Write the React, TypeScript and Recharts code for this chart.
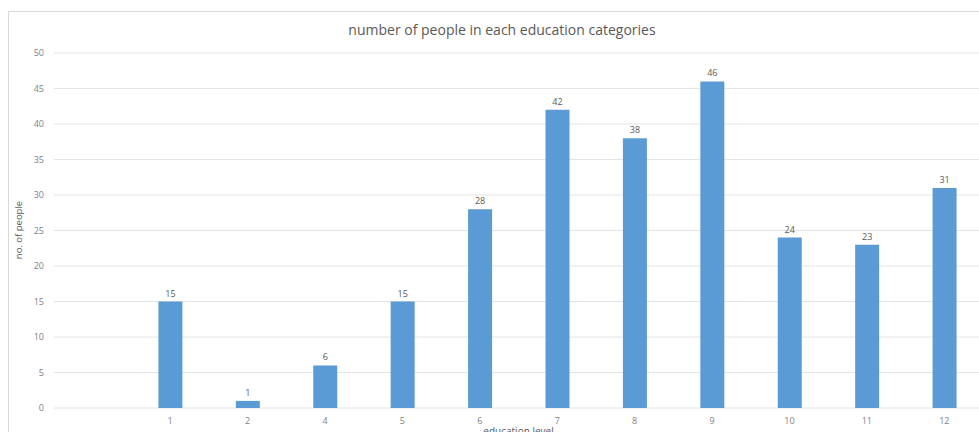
import React from 'react';
import { BarChart, Bar, XAxis, YAxis, CartesianGrid, LabelList, Label } from 'recharts';

const categories = ['', '1', '2', '4', '5', '6', '7', '8', '9', '10', '11', '12'];
const counts: (number | null)[] = [null, 15, 1, 6, 15, 28, 42, 38, 46, 24, 23, 31];
const yTicks = [0, 5, 10, 15, 20, 25, 30, 35, 40, 45, 50];

const data = categories.map((c, i) => ({ level: c, people: counts[i] }));

const FONT = '"Open Sans", "Liberation Sans", sans-serif';

export default function App() {
  return (
    <div style={{ position: 'absolute', left: 0, top: 0, width: 979, height: 432, overflow: 'hidden', background: '#fff' }}>
      <div
        style={{
          position: 'absolute',
          left: 8,
          top: 11,
          width: 1000,
          height: 440,
          borderLeft: '1px solid #d9d9d9',
          borderTop: '1px solid #d9d9d9',
          fontFamily: FONT,
        }}
      >
        <div
          style={{
            position: 'absolute',
            left: 0,
            top: 8,
            width: 986,
            textAlign: 'center',
            fontSize: 14,
            color: '#595959',
            lineHeight: '20px',
          }}
        >
          number of people in each education categories
        </div>
        <div
          style={{
            position: 'absolute',
            left: 9,
            top: 218,
            width: 0,
            height: 0,
          }}
        >
          <div
            style={{
              position: 'absolute',
              transform: 'translate(-50%, -50%) rotate(-90deg)',
              whiteSpace: 'nowrap',
              fontSize: 9.5,
              color: '#595959',
            }}
          >
            no. of people
          </div>
        </div>
        <div style={{ position: 'absolute', left: 0, top: 0 }}>
          <BarChart
            width={984}
            height={430}
            data={data}
            margin={{ top: 41, right: 10, left: 0, bottom: 4 }}
            barSize={24}
          >
            <CartesianGrid horizontal vertical={false} stroke="#e4e4e4" strokeWidth={1} />
            <XAxis
              dataKey="level"
              axisLine={false}
              tickLine={false}
              height={30}
              tickMargin={4}
              tick={{ fontSize: 9, fill: '#7f7f7f', fontFamily: FONT }}
              interval={0}
            >
              <Label
                value="education level"
                position="insideBottom"
                offset={3}
                style={{ fontSize: 10, fill: '#595959', fontFamily: FONT }}
              />
            </XAxis>
            <YAxis
              width={45}
              domain={[0, 50]}
              ticks={yTicks}
              axisLine={false}
              tickLine={false}
              tickMargin={4}
              tick={{ fontSize: 9, fill: '#7f7f7f', fontFamily: FONT }}
            />
            <Bar dataKey="people" fill="#5b9bd5" isAnimationActive={false}>
              <LabelList
                dataKey="people"
                position="top"
                offset={5}
                style={{ fontSize: 9, fill: '#595959', fontFamily: FONT }}
              />
            </Bar>
          </BarChart>
        </div>
      </div>
    </div>
  );
}
